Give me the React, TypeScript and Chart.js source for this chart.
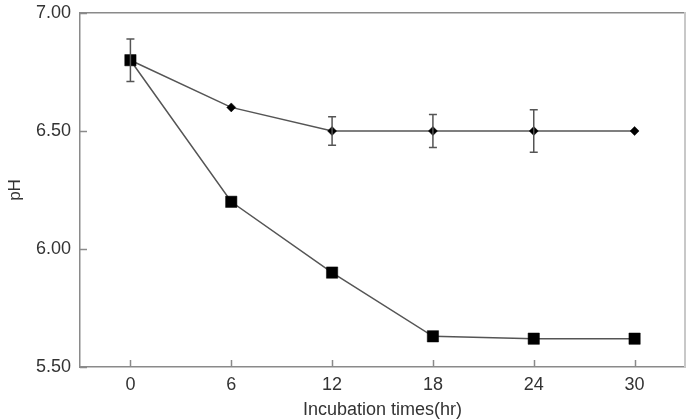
import React, { useEffect, useRef } from "react";
import { Chart, registerables } from "chart.js";

Chart.register(...registerables);

// Incubation time points (hr)
const times = [0, 6, 12, 18, 24, 30];
// pH of the first culture (diamond markers) with standard deviations
const phDiamond = [6.8, 6.6, 6.5, 6.5, 6.5, 6.5];
const sdDiamond = [0.09, 0, 0.06, 0.07, 0.09, 0];
// pH of the second culture (square markers)
const phSquare = [6.8, 6.2, 5.9, 5.63, 5.62, 5.62];
// Axis ticks
const xTicks = [0, 6, 12, 18, 24, 30];
const yTicks = [5.5, 6.0, 6.5, 7.0];

const AXIS_COLOR = "#8a8a8a";
const LINE_COLOR = "#555555";
const TEXT_COLOR = "#333333";
const FONT = "'Liberation Sans', Arial, sans-serif";
const FONT_SIZE = 18;

// Error bars for the diamond series and short inward tick marks on both axes
const decorPlugin = {
  id: "decor",
  afterDatasetsDraw(chart: any) {
    const { ctx, chartArea, scales } = chart;
    const xs = scales.x;
    const ys = scales.y;
    ctx.save();
    // inward tick marks
    ctx.strokeStyle = AXIS_COLOR;
    ctx.lineWidth = 1.5;
    ctx.beginPath();
    xTicks.forEach((t) => {
      const px = Math.round(xs.getPixelForValue(t)) + 0.5;
      ctx.moveTo(px, chartArea.bottom);
      ctx.lineTo(px, chartArea.bottom - 7);
    });
    yTicks.forEach((t) => {
      const py = Math.round(ys.getPixelForValue(t)) + 0.5;
      ctx.moveTo(chartArea.left, py);
      ctx.lineTo(chartArea.left + 7, py);
    });
    ctx.stroke();
    // error bars
    ctx.strokeStyle = LINE_COLOR;
    ctx.lineWidth = 1.5;
    ctx.beginPath();
    times.forEach((t, i) => {
      const sd = sdDiamond[i];
      if (!sd) return;
      const px = xs.getPixelForValue(t);
      const top = ys.getPixelForValue(phDiamond[i] + sd);
      const bot = ys.getPixelForValue(phDiamond[i] - sd);
      ctx.moveTo(px, top);
      ctx.lineTo(px, bot);
      ctx.moveTo(px - 4, top);
      ctx.lineTo(px + 4, top);
      ctx.moveTo(px - 4, bot);
      ctx.lineTo(px + 4, bot);
    });
    ctx.stroke();
    ctx.restore();
  },
};

export default function App() {
  const canvasRef = useRef<HTMLCanvasElement | null>(null);

  useEffect(() => {
    document.body.style.margin = "0";
    const canvas = canvasRef.current;
    if (!canvas) return;
    const chart = new Chart(canvas, {
      type: "line",
      data: {
        datasets: [
          {
            label: "square",
            data: times.map((t, i) => ({ x: t, y: phSquare[i] })),
            borderColor: LINE_COLOR,
            borderWidth: 1.5,
            pointStyle: "rect",
            pointRadius: 8,
            pointBorderWidth: 0.5,
            pointBackgroundColor: "#000",
            pointBorderColor: "#000",
            order: 0,
          },
          {
            label: "diamond",
            data: times.map((t, i) => ({ x: t, y: phDiamond[i] })),
            borderColor: LINE_COLOR,
            borderWidth: 1.5,
            pointStyle: "rectRot",
            pointRadius: 4.5,
            pointBorderWidth: 0.5,
            pointBackgroundColor: "#000",
            pointBorderColor: "#000",
            order: 1,
          },
        ],
      },
      plugins: [decorPlugin],
      options: {
        animation: false,
        responsive: false,
        maintainAspectRatio: false,
        layout: { padding: { top: 13, right: 9, left: 0, bottom: 0 } },
        plugins: {
          legend: { display: false },
          tooltip: { enabled: false },
        },
        scales: {
          x: {
            type: "linear",
            min: -3,
            max: 33,
            afterBuildTicks: (scale: any) => {
              scale.ticks = xTicks.map((v) => ({ value: v }));
            },
            afterFit: (scale: any) => {
              scale.height = 52;
              scale.paddingLeft = 0;
              scale.paddingRight = 0;
            },
            grid: { display: false, drawTicks: false },
            border: { display: true, color: AXIS_COLOR, width: 1.5 },
            ticks: {
              color: TEXT_COLOR,
              font: { family: FONT, size: FONT_SIZE },
              padding: 7,
              maxRotation: 0,
            },
            title: {
              display: true,
              text: "Incubation times(hr)",
              color: TEXT_COLOR,
              font: { family: FONT, size: FONT_SIZE },
              padding: { top: 4, bottom: -2 },
            },
          },
          y: {
            type: "linear",
            min: 5.5,
            max: 7.0,
            afterBuildTicks: (scale: any) => {
              scale.ticks = yTicks.map((v) => ({ value: v }));
            },
            afterFit: (scale: any) => {
              scale.width = 80;
              scale.paddingTop = 0;
              scale.paddingBottom = 0;
            },
            grid: { display: false, drawTicks: false },
            border: { display: true, color: AXIS_COLOR, width: 1.5 },
            ticks: {
              color: TEXT_COLOR,
              font: { family: FONT, size: FONT_SIZE },
              padding: 9,
              callback: (v: any) => Number(v).toFixed(2),
            },
            title: {
              display: true,
              text: "pH",
              color: TEXT_COLOR,
              font: { family: FONT, size: 17 },
              padding: { top: 5, bottom: 0 },
            },
          },
          x2: {
            type: "linear",
            position: "top",
            display: true,
            min: -3,
            max: 33,
            afterFit: (scale: any) => {
              scale.height = 0;
              scale.paddingLeft = 0;
              scale.paddingRight = 0;
            },
            grid: { display: false, drawTicks: false },
            border: { display: true, color: AXIS_COLOR, width: 1.5 },
            ticks: { display: false },
          },
          y2: {
            type: "linear",
            position: "right",
            display: true,
            min: 5.5,
            max: 7.0,
            afterFit: (scale: any) => {
              scale.width = 0;
              scale.paddingTop = 0;
              scale.paddingBottom = 0;
            },
            grid: { display: false, drawTicks: false },
            border: { display: true, color: "#c8c8c8", width: 2 },
            ticks: { display: false },
          },
        },
      } as any,
    });
    return () => chart.destroy();
  }, []);

  return (
    <div style={{ position: "fixed", left: 0, top: 0, width: 694, height: 419, background: "#fff" }}>
      <canvas ref={canvasRef} width={694} height={419} />
    </div>
  );
}
